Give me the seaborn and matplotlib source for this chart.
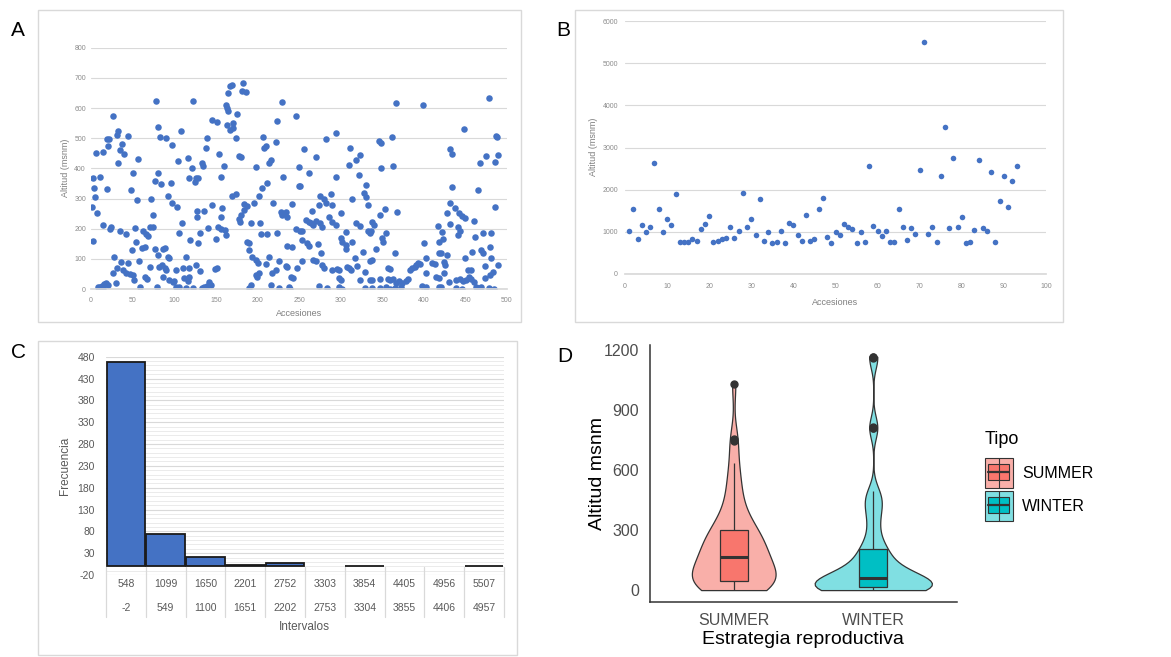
import numpy as np
import pandas as pd
import matplotlib
matplotlib.use("Agg")
import matplotlib.pyplot as plt
import matplotlib.transforms as mtransforms
from matplotlib.patches import Rectangle
from matplotlib.lines import Line2D
import seaborn as sns

# ---------------- DATA ----------------
# Panel A: (accession, altitude), left to right
A_seg1 = [(78,623),(26,572),(32,525),(31,510),(19,496),(22,498),(44,508),(37,481),(21,474),(35,461),
          (40,446),(6,450),(15,455),(33,419),(57,431),(81,536),(83,503),(2,369),(11,372),(4,336),
          (19,330),(50,383),(48,328),(80,383),(77,359),(84,348),(5,306),(55,295),(72,297),(1,273),
          (7,251),(14,212),(24,207),(23,198),(35,192),(42,184),(53,203),(62,193),(66,184),(68,176),
          (71,207),(74,204),(75,245),(3,159),(54,157),(49,129),(61,135),(65,138),(77,131),(81,113),
          (28,105),(36,91),(45,87),(58,92),(71,74),(82,74),(31,69),(38,63),(42,54),(47,50),
          (50,47),(26,54),(52,30),(65,41),(67,34),(30,19),(59,8),(79,6),(8,6),(11,8),
          (13,10),(16,15),(18,19),(20,13),(10,2),(15,2)]
A_seg2 = [(122,623),(167,673),(165,649),(162,610),(164,599),(165,591),(146,560),(151,554),(164,544),(167,527),
          (108,525),(140,499),(90,500),(97,477),(138,466),(154,446),(105,425),(116,433),(133,417),(135,408),
          (160,408),(121,400),(118,367),(126,367),(129,367),(125,356),(156,372),(96,350),(92,309),(97,286),
          (103,273),(146,278),(158,270),(127,260),(136,260),(128,238),(156,240),(109,220),(106,185),(131,185),
          (141,203),(153,207),(156,199),(161,196),(162,179),(119,162),(129,154),(150,165),(86,131),(89,135),
          (92,107),(94,102),(114,107),(85,80),(89,69),(90,63),(102,63),(110,69),(118,69),(126,80),
          (131,61),(149,65),(151,69),(86,41),(94,30),(98,24),(100,28),(102,8),(104,2),(106,6),
          (112,35),(116,28),(118,39),(114,2),(122,2),(134,2),(136,8),(139,10),(142,24),(144,13)]
A_seg3 = [(183,684),(182,657),(186,654),(170,676),(230,619),(246,573),(224,557),(176,580),(171,549),(171,533),
          (174,499),(207,503),(210,474),(208,466),(222,486),(178,441),(180,439),(216,428),(214,419),(198,403),
          (250,403),(231,370),(212,352),(250,341),(251,341),(206,334),(202,309),(170,308),(174,315),(184,282),
          (187,276),(196,286),(219,284),(242,282),(228,256),(234,256),(230,245),(236,240),(180,245),(184,262),
          (178,231),(179,223),(192,218),(203,220),(246,198),(251,193),(204,182),(211,182),(223,187),(187,157),
          (190,154),(190,129),(235,142),(242,140),(194,105),(198,96),(201,87),(214,107),(226,94),(210,83),
          (234,76),(236,74),(247,69),(222,63),(218,52),(202,52),(200,39),(198,46),(240,41),(243,35),
          (192,13),(190,2),(216,13),(226,2),(238,6),(239,0)]
A_seg4 = [(295,516),(282,496),(256,463),(270,439),(311,466),(319,429),(323,443),(262,386),(310,411),(294,370),
          (322,378),(331,345),(275,309),(280,300),(283,284),(288,315),(290,278),(314,300),(328,319),(330,306),
          (333,278),(274,278),(266,260),(300,251),(286,238),(290,223),(258,229),(262,223),(264,220),(267,212),
          (271,225),(275,218),(278,207),(294,212),(254,192),(318,218),(323,209),(333,193),(335,185),(306,190),
          (254,162),(260,151),(262,143),(300,168),(302,157),(306,146),(314,157),(273,150),(306,131),(327,124),
          (277,118),(254,94),(267,96),(271,94),(317,102),(335,94),(278,80),(280,69),(290,63),(296,65),
          (298,63),(308,74),(310,69),(312,63),(320,76),(329,57),(298,35),(300,30),(323,30),(274,10),
          (284,2),(298,8),(302,0),(329,2),(335,30)]
A_seg5 = [(367,618),(399,610),(346,492),(348,485),(362,503),(348,402),(363,409),(353,264),(347,245),(368,256),
          (338,223),(340,212),(336,193),(417,209),(355,187),(350,168),(351,157),(418,157),(400,151),(342,131),
          (365,118),(338,96),(418,120),(403,102),(410,87),(413,83),(357,69),(359,65),(393,87),(395,83),
          (391,80),(389,74),(386,69),(383,63),(403,52),(415,41),(418,35),(338,30),(347,32),(357,32),
          (359,30),(363,32),(367,19),(370,28),(374,21),(379,28),(381,32),(338,2),(347,2),(354,6),
          (359,0),(365,2),(373,8),(398,10),(403,8),(418,6)]
A_seg6 = [(478,634),(448,529),(487,507),(488,503),(432,463),(434,447),(475,440),(468,419),(489,444),(486,422),
          (434,339),(465,328),(432,286),(485,273),(437,267),(442,253),(446,242),(428,251),(450,234),(460,227),
          (422,190),(423,165),(431,215),(441,207),(443,193),(441,179),(462,173),(471,187),(481,187),(480,138),
          (469,129),(471,118),(458,124),(421,118),(428,113),(449,102),(424,91),(425,80),(481,102),(489,80),
          (474,76),(453,63),(457,63),(483,57),(424,52),(430,24),(439,30),(443,32),(447,28),(451,30),
          (454,39),(457,32),(460,24),(474,35),(479,46),(421,8),(439,2),(446,0),(463,8),(466,2),
          (469,6),(478,2),(484,0)]

# Panel B: altitude of accessions 1..93
alt_B = [1020,1530,820,1160,1000,1110,2640,1540,1000,1300,
         1170,1900,750,750,770,840,790,1070,1190,1380,
         760,790,820,850,1110,860,1030,1920,1110,1300,
         920,1790,790,1000,730,760,1020,740,1220,1170,
         930,790,1410,790,820,1540,1810,880,740,1000,
         920,1180,1120,1060,740,1000,770,2550,1140,1030,
         900,1010,770,750,1530,1120,810,1080,960,2470,
         5500,960,1110,750,2320,3490,1090,2740,1120,1350,
         730,750,1040,2700,1080,1030,2430,770,1720,2320,
         1600,2210,2570]
acc_B = list(range(1, len(alt_B) + 1))

# Panel C: histogram
int_upper = ["548","1099","1650","2201","2752","3303","3854","4405","4956","5507"]
int_lower = ["-2","549","1100","1651","2202","2753","3304","3855","4406","4957"]
freq_C = [467, 73, 22, 4, 8, 0, 1, 0, 0, 1]

# Panel D: altitude by reproductive strategy
summer_alt = [0,3,6,9,12,15,18,22,26,30,33,36,39,42,45,
              52,60,68,76,84,92,100,110,120,130,140,150,158,165,170,
              178,186,195,205,215,225,235,245,255,265,275,285,295,305,315,
              330,350,375,400,430,465,500,545,590,635,
              745,755,1030]
winter_alt = [0,0,1,1,2,2,3,3,4,5,5,6,7,8,9,10,10,11,12,13,
              15,17,19,21,23,25,27,29,31,33,35,37,40,43,46,49,52,55,58,62,
              66,70,75,80,85,90,95,100,110,120,130,140,150,160,170,180,190,200,210,217,
              240,270,300,330,360,390,410,430,450,465,480,495,
              808,812,816,1160,1163,1166]
tipos = ["SUMMER", "WINTER"]

# ---------------- FIGURE ----------------
sns.set_theme(style="white")
plt.rcParams['font.family'] = ['Liberation Sans', 'DejaVu Sans']
plt.rcParams['axes.unicode_minus'] = False

W, H = 1171, 657
fig = plt.figure(figsize=(W / 100, H / 100), dpi=100)
fig.patch.set_facecolor("white")


def add_ax(l, t, r, b):
    return fig.add_axes([l / W, 1 - b / H, (r - l) / W, (b - t) / H])


def ftext(x, y, s, **kw):
    fig.text(x / W, 1 - y / H, s, **kw)


def fbox(l, t, r, b, color="#D9D9D9"):
    fig.add_artist(Rectangle((l / W, 1 - b / H), (r - l) / W, (b - t) / H,
                             transform=fig.transFigure, fill=False,
                             edgecolor=color, linewidth=1.0))


BLUE = "#4472C4"
GRID = "#D9D9D9"
TICKC = "#8C8C8C"

# panel borders
fbox(38, 10, 521, 322)
fbox(575, 10, 1063, 322)
fbox(38, 341, 517, 655)

# ---------- Panel A ----------
axA = add_ax(91, 47.7, 507, 289)
ptsA = A_seg1 + A_seg2 + A_seg3 + A_seg4 + A_seg5 + A_seg6
dfA = pd.DataFrame(ptsA, columns=["acc", "alt"])
sns.scatterplot(data=dfA, x="acc", y="alt", ax=axA, color=BLUE, s=22, linewidth=0)
axA.set_xlim(0, 500)
axA.set_ylim(0, 800)
axA.set_xticks(range(0, 501, 50))
axA.set_yticks(range(0, 801, 100))
axA.grid(axis="y", color=GRID, lw=0.8)
axA.set_axisbelow(True)
for s in ["left", "right", "top"]:
    axA.spines[s].set_visible(False)
axA.spines["bottom"].set_color(GRID)
axA.tick_params(axis="both", length=0, labelsize=5, labelcolor=TICKC)
axA.tick_params(axis="x", pad=5.5)
axA.tick_params(axis="y", pad=3.6)
axA.set_xlabel("")
axA.set_ylabel("")
ftext(299, 314, "Accesiones", fontsize=6.5, color="#7F7F7F", ha="center", va="center")
ftext(65, 168, "Altitud (msnm)", fontsize=6.5, color="#7F7F7F", ha="center", va="center", rotation=90)

# ---------- Panel B ----------
axB = add_ax(625, 21, 1046, 274)
dfB = pd.DataFrame({"acc": acc_B, "alt": alt_B})
sns.scatterplot(data=dfB, x="acc", y="alt", ax=axB, color=BLUE, s=16, linewidth=0)
axB.set_xlim(0, 100)
axB.set_ylim(0, 6000)
axB.set_xticks(range(0, 101, 10))
axB.set_yticks(range(0, 6001, 1000))
axB.grid(axis="y", color=GRID, lw=0.8)
axB.set_axisbelow(True)
for s in ["left", "right", "top"]:
    axB.spines[s].set_visible(False)
axB.spines["bottom"].set_color(GRID)
axB.tick_params(axis="both", length=0, labelsize=5, labelcolor=TICKC)
axB.tick_params(axis="x", pad=6.5)
axB.tick_params(axis="y", pad=5)
axB.set_xlabel("")
axB.set_ylabel("")
ftext(835, 303, "Accesiones", fontsize=6.5, color="#7F7F7F", ha="center", va="center")
ftext(593, 147, "Altitud (msnm)", fontsize=6.5, color="#7F7F7F", ha="center", va="center", rotation=90)

# ---------- Panel C ----------
axC = add_ax(106, 356.7, 504, 575)
dfC = pd.DataFrame({"intervalo": int_upper, "frecuencia": freq_C})
sns.barplot(data=dfC, x="intervalo", y="frecuencia", order=int_upper, ax=axC,
            color=BLUE, saturation=1, width=0.97, edgecolor="#1A1A1A", linewidth=1.3)
for p in axC.patches:
    if p.get_height() == 0:
        p.set_linewidth(0)
axC.set_xlim(-0.5, 9.5)
axC.set_ylim(-20, 480)
axC.set_yticks(range(-20, 481, 50))
axC.set_yticks(range(-20, 481, 10), minor=True)
axC.grid(axis="y", which="major", color=GRID, lw=0.8)
axC.grid(axis="y", which="minor", color="#E8E8E8", lw=0.6)
axC.set_axisbelow(True)
for s in ["left", "right", "top", "bottom"]:
    axC.spines[s].set_visible(False)
axC.set_xticks([])
axC.tick_params(axis="y", which="both", length=0, labelsize=7.5, labelcolor="#595959", pad=8)
axC.set_xlabel("")
axC.set_ylabel("")
blend = mtransforms.blended_transform_factory(axC.transData, fig.transFigure)
for i in range(len(int_upper)):
    axC.text(i, 1 - 584 / H, int_upper[i], transform=blend, ha="center", va="center",
             fontsize=7.5, color="#595959", clip_on=False)
    axC.text(i, 1 - 608 / H, int_lower[i], transform=blend, ha="center", va="center",
             fontsize=7.5, color="#595959", clip_on=False)
for i in range(len(int_upper) + 1):
    axC.add_line(Line2D([i - 0.5, i - 0.5], [1 - 567 / H, 1 - 617 / H], transform=blend,
                        color=GRID, lw=0.9, clip_on=False))
ftext(304, 627, "Intervalos", fontsize=8.5, color="#595959", ha="center", va="center")
ftext(65, 466, "Frecuencia", fontsize=8.5, color="#595959", ha="center", va="center", rotation=90)

# ---------- Panel D ----------
axD = add_ax(650, 345.4, 957, 601.7)
dfD = pd.DataFrame({
    "Estrategia": ["SUMMER"] * len(summer_alt) + ["WINTER"] * len(winter_alt),
    "Altitud": summer_alt + winter_alt,
})
light = {"SUMMER": "#F9AFA9", "WINTER": "#80DFE2"}
sat = {"SUMMER": "#F8766D", "WINTER": "#00BFC4"}
DARK = "#333333"
vio_bw = {"SUMMER": 0.36, "WINTER": 0.2}
vio_width = {"SUMMER": 0.6, "WINTER": 0.84}
for t in tipos:
    sub = dfD[dfD["Estrategia"] == t]
    sns.violinplot(data=sub, x="Estrategia", y="Altitud", order=tipos,
                   color=light[t], cut=0, inner=None, width=vio_width[t],
                   linewidth=0.9, linecolor=DARK, bw_method=vio_bw[t],
                   density_norm="area", saturation=1, ax=axD)
sns.boxplot(data=dfD, x="Estrategia", y="Altitud", hue="Estrategia", order=tipos,
            hue_order=tipos, palette=sat, width=0.2, linewidth=0.9, linecolor=DARK,
            saturation=1, legend=False, ax=axD,
            flierprops=dict(marker="o", markersize=5, markerfacecolor=DARK, markeredgecolor=DARK),
            medianprops=dict(linewidth=2.2), capprops=dict(linewidth=0))
axD.set_xlim(-0.6, 1.6)
axD.set_ylim(-58, 1223)
axD.set_yticks([0, 300, 600, 900, 1200])
for s in ["right", "top"]:
    axD.spines[s].set_visible(False)
for s in ["left", "bottom"]:
    axD.spines[s].set_color(DARK)
    axD.spines[s].set_linewidth(1.1)
axD.tick_params(axis="both", length=5, width=1.1, color=DARK, labelsize=11.5,
                labelcolor="#4D4D4D", pad=3)
axD.set_xlabel("")
axD.set_ylabel("")
ftext(803, 640, "Estrategia reproductiva", fontsize=14, color="black", ha="center", va="center")
ftext(597, 473, "Altitud msnm", fontsize=14, color="black", ha="center", va="center", rotation=90)

# legend (ggplot style keys)
ftext(985, 439, "Tipo", fontsize=13, color="black", ha="left", va="center")
key_tops = [457.7, 490.7]
for k, t in enumerate(tipos):
    top = key_tops[k]
    fig.add_artist(Rectangle((985 / W, 1 - (top + 30) / H), 28 / W, 30 / H,
                             transform=fig.transFigure, facecolor=light[t],
                             edgecolor=DARK, linewidth=0.8))
    fig.add_artist(Line2D([999 / W, 999 / W], [1 - top / H, 1 - (top + 30) / H],
                          transform=fig.transFigure, color=DARK, lw=0.8))
    fig.add_artist(Rectangle((988.3 / W, 1 - (top + 22.3) / H), 21 / W, 16 / H,
                             transform=fig.transFigure, facecolor=sat[t],
                             edgecolor=DARK, linewidth=0.8))
    fig.add_artist(Line2D([988.3 / W, 1009.3 / W], [1 - (top + 14) / H, 1 - (top + 14) / H],
                          transform=fig.transFigure, color=DARK, lw=1.6))
    ftext(1022, top + 16, t, fontsize=11.5, color="black", ha="left", va="center")

# panel letters
ftext(18, 30, "A", fontsize=15, color="black", ha="center", va="center")
ftext(563, 30, "B", fontsize=15, color="black", ha="center", va="center")
ftext(18, 352, "C", fontsize=15, color="black", ha="center", va="center")
ftext(565, 356, "D", fontsize=15, color="black", ha="center", va="center")

fig.savefig("out.png", dpi=100, facecolor="white")
